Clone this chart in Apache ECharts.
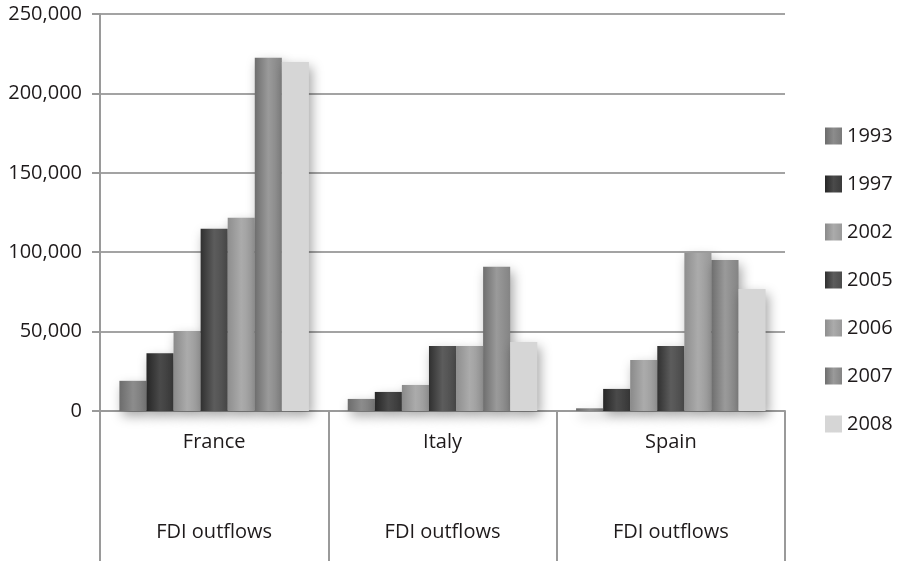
<!DOCTYPE html>
<html>
<head>
<meta charset="utf-8">
<script src="https://cdn.jsdelivr.net/npm/echarts@6/dist/echarts.min.js"></script>
<style>html,body{margin:0;padding:0;background:#fff}#c{width:907px;height:561px}</style>
</head>
<body>
<div id="c"></div>
<script>
var categories = ['France', 'Italy', 'Spain'];
var subLabel = 'FDI outflows';
var years = ['1993', '1997', '2002', '2005', '2006', '2007', '2008'];
var v1993 = [19000, 7600, 1700];
var v1997 = [36300, 12000, 13900];
var v2002 = [50400, 16400, 32100];
var v2005 = [114800, 41000, 41000];
var v2006 = [121700, 41000, 99700];
var v2007 = [222500, 90800, 95100];
var v2008 = [219800, 43500, 76800];
var yTicks = [0, 50000, 100000, 150000, 200000, 250000];

var values = [v1993, v1997, v2002, v2005, v2006, v2007, v2008];
var palettes = [
  ['#6c6c6c', '#8c8c8c', '#7a7a7a'],
  ['#262626', '#4a4a4a', '#3a3a3a'],
  ['#8a8a8a', '#ababab', '#9a9a9a'],
  ['#303030', '#5c5c5c', '#4c4c4c'],
  ['#8e8e8e', '#ababab', '#999999'],
  ['#6e6e6e', '#9a9a9a', '#848484'],
  ['#d6d6d6', '#d6d6d6', '#d6d6d6']
];
function grad(p) {
  return new echarts.graphic.LinearGradient(0, 0, 1, 0, [
    {offset: 0, color: p[0]}, {offset: 0.5, color: p[1]}, {offset: 1, color: p[2]}
  ]);
}
var font = 'Open Sans';
var txt = '#1e1a1b';
var chart = echarts.init(document.getElementById('c'));
chart.setOption({
  animation: false,
  grid: {left: 100, right: 122, top: 14, bottom: 150, containLabel: false},
  legend: {
    orient: 'vertical', left: 820, top: 121, itemWidth: 17, itemHeight: 17, itemGap: 28,
    icon: 'rect',
    textStyle: {fontFamily: font, fontSize: 20, color: txt},
    itemStyle: {shadowBlur: 0, shadowOffsetX: 0, shadowOffsetY: 0, shadowColor: 'transparent'},
    data: years
  },
  xAxis: {
    type: 'category', data: categories,
    axisLine: {show: true, lineStyle: {color: '#9a9a9a', width: 2}},
    axisTick: {show: true, length: 150, lineStyle: {color: '#9a9a9a', width: 2}},
    axisLabel: {
      fontFamily: font, fontSize: 20, color: txt, margin: 16, lineHeight: 30,
      formatter: function (v) { return v + '\n\n\n' + subLabel; }
    }
  },
  yAxis: {
    type: 'value', min: yTicks[0], max: yTicks[yTicks.length - 1], interval: 50000,
    axisLine: {show: true, lineStyle: {color: '#9a9a9a', width: 2}},
    axisTick: {show: true, length: 8, lineStyle: {color: '#9a9a9a', width: 2}},
    splitLine: {show: true, lineStyle: {color: '#a3a3a3', width: 2}},
    axisLabel: {
      fontFamily: font, fontSize: 20, color: txt, margin: 18,
      formatter: function (v) { return v.toLocaleString('en-US'); }
    }
  },
  series: years.map(function (y, i) {
    return {
      name: y, type: 'bar', data: values[i], barGap: '0%', barCategoryGap: '17%',
      itemStyle: {color: grad(palettes[i]), shadowBlur: 12, shadowColor: 'rgba(0,0,0,0.35)', shadowOffsetX: 3, shadowOffsetY: 5}
    };
  })
});
</script>
</body>
</html>
